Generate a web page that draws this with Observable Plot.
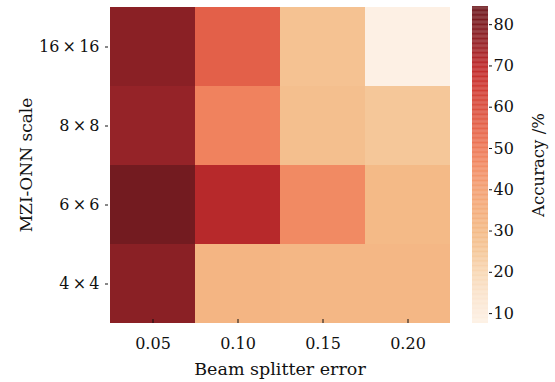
<!DOCTYPE html>
<html>
<head>
<meta charset="utf-8">
<script src="https://cdn.jsdelivr.net/npm/d3@7"></script>
<script src="https://cdn.jsdelivr.net/npm/@observablehq/plot@0.6"></script>
<style>
  html, body { margin: 0; padding: 0; background: #fff; }
  #wrap { position: relative; width: 555px; height: 382px; overflow: hidden; }
  #main, #bar { position: absolute; top: 0; }
  #main { left: 0; }
  #bar { left: 440px; }
</style>
</head>
<body>
<div id="wrap"><div id="main"></div><div id="bar"></div></div>
<script>
// ---- data ----
const errors = ["0.05", "0.10", "0.15", "0.20"];
const scales = ["16\u2009×\u200916", "8\u2009×\u20098", "6\u2009×\u20096", "4\u2009×\u20094"];
const acc16 = [78, 56, 27, 8];
const acc8  = [76, 48, 28, 25];
const acc6  = [83, 71, 46, 30];
const acc4  = [78, 32, 31, 31];
const colorTicks = [10, 20, 30, 40, 50, 60, 70, 80];
const colorDomain = [7.6, 84.4];

// colormap stops (value -> colour)
const stopValues = [7.6, 10, 15, 20, 25, 30, 35, 40, 45, 50, 55, 60, 65, 70, 75, 80, 84.4];
const stopColors = ["#fdf1e5", "#fcecdd", "#fae3cb", "#f8d7b4", "#f5c799", "#f4ba87", "#f4ad7c", "#f3a073",
                    "#f28e66", "#ee7a59", "#e5644b", "#da4f3f", "#cf3a33", "#be2a2c", "#9a2429", "#7f1d22", "#6e1a1f"];

const rows = [acc16, acc8, acc6, acc4];
const table = [];
scales.forEach((s, i) => errors.forEach((e, j) => table.push({scale: s, error: e, acc: rows[i][j]})));

const colorScale = {type: "linear", domain: stopValues, range: stopColors, interpolate: "rgb"};
const font = "'DejaVu Serif', serif";

const main = Plot.plot({
  width: 455, height: 382,
  marginLeft: 108, marginRight: 4, marginTop: 6, marginBottom: 59,
  style: {fontFamily: font, fontSize: "16px", color: "#111", background: "transparent"},
  x: {domain: errors, padding: 0},
  y: {domain: scales, padding: 0},
  color: colorScale,
  marks: [
    Plot.cell(table, {x: "error", y: "scale", fill: "acc", inset: 0}),
    Plot.axisX({tickSize: -4, tickPadding: 18, label: null}),
    Plot.axisX({ticks: [], tickSize: 0, fontSize: 17.5, label: "Beam splitter error", labelAnchor: "center", labelArrow: "none", labelOffset: 51}),
    Plot.axisY({tickSize: 3, tickPadding: 6, label: null}),
    Plot.axisY({ticks: [], tickSize: 0, fontSize: 17, label: "MZI-ONN scale", labelAnchor: "center", labelArrow: "none", labelOffset: 89})
  ]
});
document.getElementById("main").appendChild(main);

// colour bar
const step = 0.2;
const strips = d3.range(colorDomain[0], colorDomain[1], step);
const bar = Plot.plot({
  width: 115, height: 382,
  marginLeft: 32, marginRight: 67, marginTop: 6, marginBottom: 59,
  style: {fontFamily: font, fontSize: "16px", color: "#111", background: "transparent"},
  y: {domain: colorDomain},
  color: colorScale,
  marks: [
    Plot.rect(strips, {y1: d => d, y2: d => Math.min(d + step + 0.05, colorDomain[1]), fill: d => d + step / 2}),
    Plot.axisY({anchor: "right", ticks: colorTicks, tickSize: 3, tickPadding: 2, label: null}),
    Plot.axisY({anchor: "right", ticks: [], tickSize: 0, fontSize: 16.5, label: "Accuracy /%", labelAnchor: "center", labelArrow: "none", labelOffset: 55})
  ]
});
document.getElementById("bar").appendChild(bar);
</script>
</body>
</html>
